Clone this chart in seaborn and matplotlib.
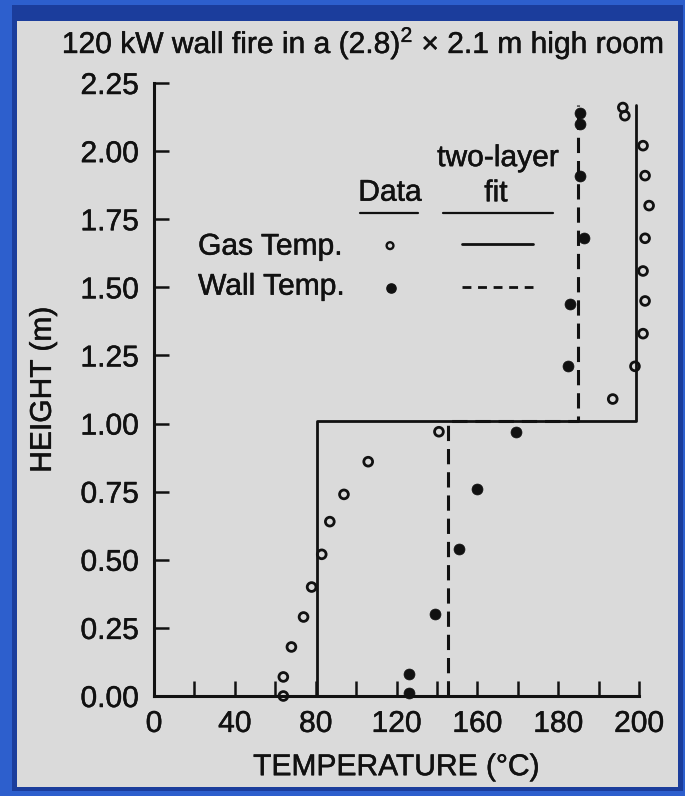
import numpy as np
import pandas as pd
import matplotlib
matplotlib.use("Agg")
import matplotlib.pyplot as plt
import matplotlib.patheffects as pe
from matplotlib.patches import Rectangle
from matplotlib.lines import Line2D
import seaborn as sns

# Measured profiles: temperature (deg C) versus height above floor (m)
gas_height = [0.00, 0.07, 0.18, 0.29, 0.40, 0.52, 0.64, 0.74, 0.86, 0.97,
              1.09, 1.21, 1.33, 1.45, 1.56, 1.68, 1.80, 1.91, 2.02, 2.13, 2.16]
gas_temp = [64, 64, 68, 74, 78, 83, 87, 94, 106, 141,
            227, 238, 242, 243, 242, 243, 245, 243, 242, 233, 232]

wall_height = [0.01, 0.08, 0.30, 0.54, 0.76, 0.97, 1.21, 1.44, 1.68, 1.91, 2.10, 2.14]
wall_temp = [126, 126, 139, 151, 160, 179, 205, 206, 213, 211, 211, 211]

# Two-layer zone model fit
interface_height = 1.01
ceiling_height = 2.17
gas_fit_lower, gas_fit_upper = 80.5, 238.5
wall_fit_lower, wall_fit_upper = 145.7, 209.6

x_ticks = list(range(0, 241, 20))
x_tick_labels = ["0", "", "40", "", "80", "", "120", "", "160", "", "180", "", "200"]
y_ticks = [0.0, 0.25, 0.5, 0.75, 1.0, 1.25, 1.5, 1.75, 2.0, 2.25]

title = "120 kW wall fire in a (2.8)$^2$ \u00d7 2.1 m high room"

sns.set_style("ticks")
plt.rcParams["font.family"] = ["Liberation Sans", "DejaVu Sans"]
plt.rcParams["mathtext.fontset"] = "custom"
plt.rcParams["mathtext.rm"] = "Liberation Sans"
plt.rcParams["mathtext.it"] = "Liberation Sans:italic"
plt.rcParams["mathtext.bf"] = "Liberation Sans:bold"

FS = 21.6
INK = "#111111"
HEAVY = [pe.withStroke(linewidth=0.35, foreground=INK)]

fig = plt.figure(figsize=(6.85, 7.96), dpi=100, facecolor="#2d5fcd")

# slide frame and light panel
W, H = 685.0, 796.0
fig.patches.append(Rectangle((12 / W, 5 / H), 671 / W, 786 / H, transform=fig.transFigure,
                             facecolor="#1b3d9c", edgecolor="none", zorder=-3))
fig.patches.append(Rectangle((17 / W, 9 / H), 661 / W, 766 / H, transform=fig.transFigure,
                             facecolor="#dadada", edgecolor="none", zorder=-2))

ax = fig.add_axes([154 / W, (796 - 696) / H, (639 - 154) / W, (696 - 83) / H])
ax.patch.set_visible(False)

gas = pd.DataFrame({"temp": gas_temp, "height": gas_height})
wall = pd.DataFrame({"temp": wall_temp, "height": wall_height})

fit = pd.DataFrame({
    "height": [0.0, interface_height, interface_height, ceiling_height],
    "gas": [gas_fit_lower, gas_fit_lower, gas_fit_upper, gas_fit_upper],
    "wall": [wall_fit_lower, wall_fit_lower, wall_fit_upper, wall_fit_upper],
})

sns.lineplot(data=fit, x="gas", y="height", sort=False, estimator=None,
             color=INK, lw=2.0, ax=ax)
sns.lineplot(data=fit, x="wall", y="height", sort=False, estimator=None,
             color=INK, lw=2.2, dashes=False, ax=ax)
ax.lines[-1].set_dashes((5, 2.6))

sns.scatterplot(data=gas, x="temp", y="height", marker="o", s=40,
                facecolor="none", edgecolor=INK, linewidth=2.0, ax=ax, zorder=4)
ax.collections[-1].set_facecolor("none")
ax.collections[-1].set_clip_on(False)
sns.scatterplot(data=wall, x="temp", y="height", marker="o", s=62,
                color=INK, edgecolor=INK, linewidth=0.5, ax=ax, zorder=4)
ax.collections[-1].set_clip_on(False)

ax.set_xlim(0, 240)
ax.set_ylim(0, 2.25)
ax.set_xticks(x_ticks)
ax.set_xticklabels(x_tick_labels)
ax.set_yticks(y_ticks)
ax.set_yticklabels([f"{v:.2f}" for v in y_ticks])

for side in ("top", "right"):
    ax.spines[side].set_visible(False)
for side in ("left", "bottom"):
    ax.spines[side].set_linewidth(2.2)
    ax.spines[side].set_color(INK)
    ax.spines[side].set_capstyle("projecting")

ax.tick_params(axis="both", direction="in", length=10.5, width=1.8, color=INK,
               labelsize=FS, labelcolor=INK)
ax.tick_params(axis="y", pad=11)
ax.tick_params(axis="x", pad=10)

ax.set_xlabel("TEMPERATURE (\u00b0C)", fontsize=FS, color=INK, labelpad=11)
ax.set_ylabel("HEIGHT (m)", fontsize=FS, color=INK, labelpad=17)

fig.text(363 / W, (796 - 53) / H, title, fontsize=FS, color=INK,
         ha="center", va="baseline")

# in-plot key
ax.text(116.8, 1.818, "Data", fontsize=FS, color=INK, ha="center", va="baseline")
ax.text(170.2, 1.945, "two-layer", fontsize=FS, color=INK, ha="center", va="baseline")
ax.text(169.2, 1.816, "fit", fontsize=FS, color=INK, ha="center", va="baseline")
ax.add_line(Line2D([101.9, 130.6], [1.772, 1.772], color=INK, lw=1.6))
ax.add_line(Line2D([143.0, 197.4], [1.772, 1.772], color=INK, lw=1.6))
ax.text(21.8, 1.620, "Gas Temp.", fontsize=FS, color=INK, ha="left", va="baseline")
ax.text(21.8, 1.473, "Wall Temp.", fontsize=FS, color=INK, ha="left", va="baseline")
ax.scatter([116.8], [1.653], s=24, facecolors="none", edgecolors=INK, linewidths=1.7, zorder=4)
ax.scatter([117.3], [1.498], s=44, color=INK, zorder=4)
ax.add_line(Line2D([152.4, 187.6], [1.66, 1.66], color=INK, lw=2.0))
ax.add_line(Line2D([152.4, 187.6], [1.502, 1.502], color=INK, lw=2.0, dashes=(3.2, 2.4)))

# slightly heavier lettering, like the printed figure
for t in fig.findobj(matplotlib.text.Text):
    if t.get_text():
        t.set_path_effects(HEAVY)

fig.savefig("out.png", dpi=100, facecolor=fig.get_facecolor())
